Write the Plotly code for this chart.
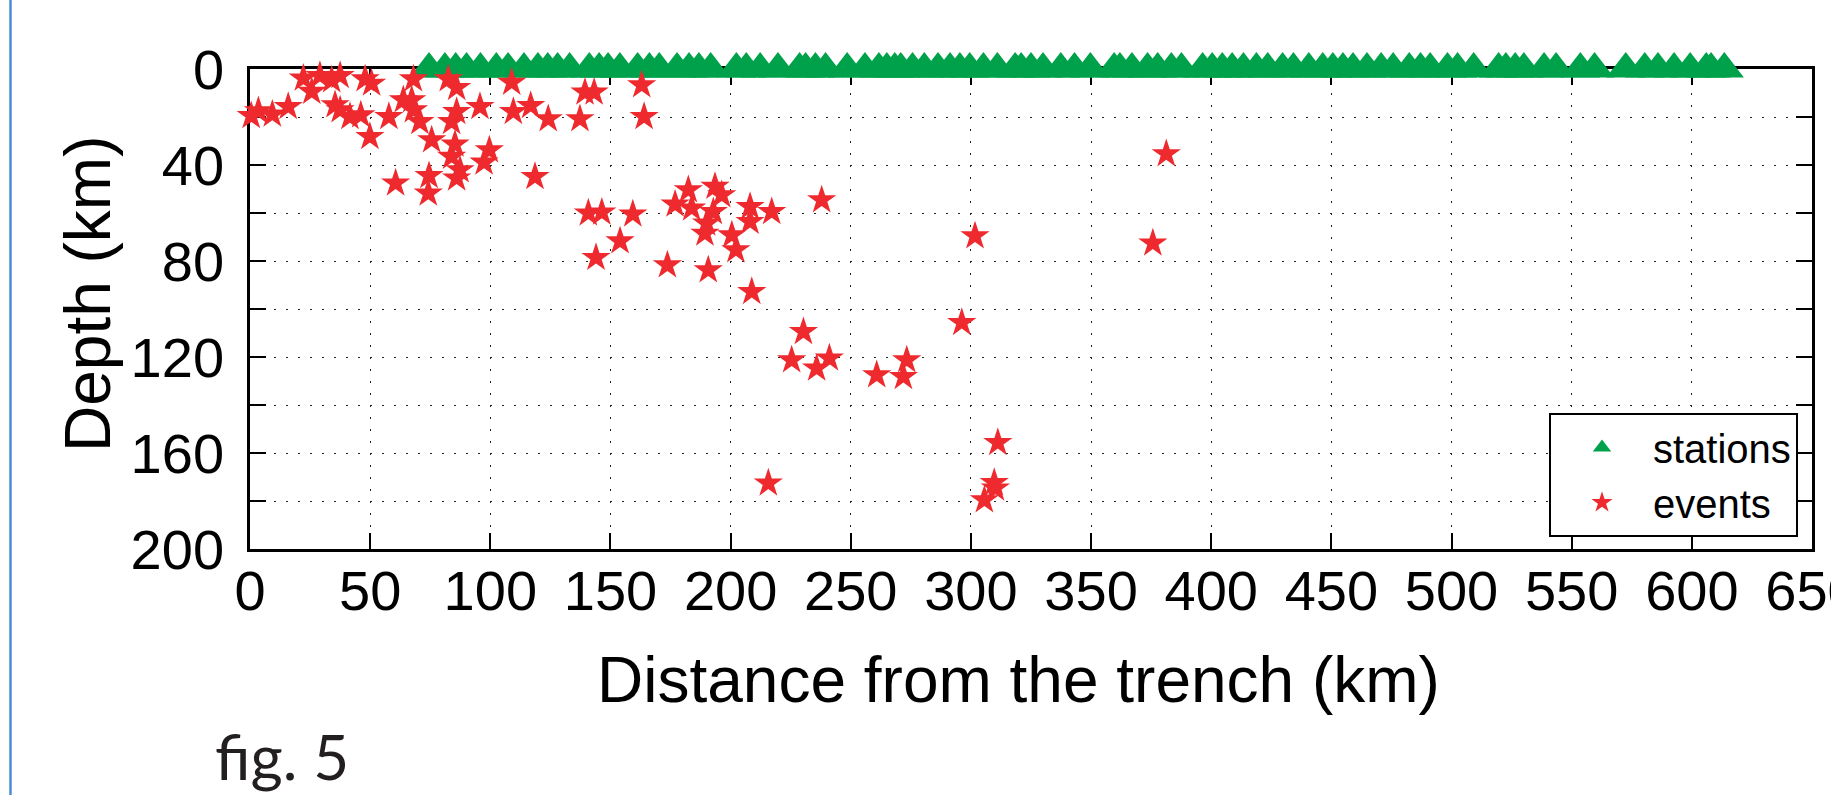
import plotly.graph_objects as go

# ---------------- data ----------------
station_km = [74.5, 81.1, 85.6, 90.1, 95.9, 102.5, 107.4, 114.0, 119.8, 123.9, 128.0, 133.0,
              141.2, 145.3, 149.0, 153.9, 161.3, 166.2, 170.3, 177.7, 182.7, 186.8, 191.7,
              202.4, 206.5, 212.3, 219.7, 228.7, 231.2, 235.3, 239.5, 248.5, 255.9, 261.7,
              265.0, 268.3, 270.8, 275.7, 280.6, 286.3, 291.3, 295.4, 299.5, 305.2, 311.0,
              318.4, 320.9, 325.0, 330.0, 337.4, 343.1, 349.7, 359.6, 362.0, 367.0, 373.5,
              377.7, 383.4, 387.6, 396.4, 400.4, 404.6, 408.7, 413.4, 418.8, 423.5, 429.7,
              434.2, 440.6, 446.4, 450.6, 454.8, 459.0, 464.8, 470.7, 475.7, 482.4, 487.1,
              491.1, 498.3, 502.5, 509.2, 519.6, 522.6, 526.5, 530.1, 538.5, 543.5, 553.6,
              559.5, 572.5, 580.4, 585.9, 592.6, 599.3, 606.0, 608.0, 613.5]
station_depth = [0, 0, 0, 0, 0, 0, 0, 0, 0, 0, 0, 0,
                 0, 0, 0, 0, 0, 0, 0, 0, 0, 0, 0,
                 0, 0, 0, 0, 0, 0, 0, 0, 0, 0, 0,
                 0, 0, 0, 0, 0, 0, 0, 0, 0, 0, 0,
                 0, 0, 0, 0, 0, 0, 0, 0, 0, 0, 0,
                 0, 0, 0, 0, 0, 0, 0, 0, 0, 0, 0,
                 0, 0, 0, 0, 0, 0, 0, 0, 0, 0, 0,
                 0, 0, 0, 0, 0, 0, 0, 0, 0, 0, 0,
                 0, 0, 0, 0, 0, 0, 0, 0, 0]

event_km = [0.5, 3.5, 9.3, 15.9, 22.2, 25.7, 29.1, 34.0, 35.4, 37.5, 37.5, 41.6, 46.1, 47.9,
            50.6, 49.9, 57.8, 60.6, 63.8, 67.3, 68.0, 68.0, 70.7, 74.5, 74.2, 75.6, 82.5,
            83.9, 83.9, 85.3, 86.0, 86.0, 86.0, 87.4, 95.7, 97.4, 99.6, 108.9, 109.6, 116.8,
            118.6, 124.1, 137.3, 139.4, 143.2, 140.8, 146.4, 144.0, 154.0, 159.3, 163.0,
            164.0, 173.7, 176.9, 182.4, 183.8, 189.3, 190.0, 190.7, 192.8, 193.5, 196.3,
            200.5, 202.2, 208.1, 208.1, 208.8, 217.1, 237.9, 230.3, 225.4, 235.8, 241.1,
            260.8, 273.3, 271.9, 296.2, 301.7, 375.7, 381.3, 215.7, 311.2, 309.7, 310.2, 305.6]
event_depth = [19.5, 17.5, 18.9, 15.7, 3.9, 9.4, 2.8, 4.6, 15.0, 2.8, 17.1, 19.9, 19.2, 4.2,
               6.0, 28.2, 19.9, 47.6, 12.9, 12.9, 4.2, 17.1, 22.0, 44.5, 51.8, 29.6, 4.2,
               22.0, 36.5, 31.4, 7.8, 17.8, 45.5, 42.1, 15.7, 38.9, 33.8, 5.6, 17.8, 15.3,
               44.9, 20.8, 20.8, 9.7, 9.7, 60.1, 59.7, 78.6, 71.7, 60.5, 6.7,
               19.9, 81.7, 56.4, 50.4, 58.0, 68.5, 64.3, 83.8, 59.5, 49.0, 52.5,
               69.2, 75.4, 57.4, 63.6, 92.8, 59.5, 54.6, 109.5, 121.3, 124.7, 120.5,
               127.5, 121.3, 128.2, 105.7, 69.6, 72.6, 35.4, 172.6, 155.7, 172.4, 174.7, 179.6]

x_tickvals = [0, 50, 100, 150, 200, 250, 300, 350, 400, 450, 500, 550, 600, 650]
x_ticktext = ["0", "50", "100", "150", "200", "250", "300", "350", "400", "450", "500",
              "550", "600", "650"]
y_tickvals = [0, 20, 40, 60, 80, 100, 120, 140, 160, 180, 200]
y_ticktext = ["0", "", "40", "", "80", "", "120", "", "160", "", "200"]

# ---------------- style ----------------
FONT = "Liberation Sans, Arial, Helvetica, sans-serif"
GREEN = "#00A14B"
RED = "#EE2A2F"
W, H = 1831, 795
L, R, T, B = 250, 19, 69, 246
PW, PH = W - L - R, H - T - B


def px_x(px):
    return (px - L) / PW


def px_y(py):
    return (H - B - py) / PH


fig = go.Figure()
fig.add_trace(go.Scatter(
    x=station_km, y=station_depth, mode="markers", name="stations",
    marker=dict(symbol="triangle-up", size=34, color=GREEN, line=dict(width=0)),
    cliponaxis=False))
fig.add_trace(go.Scatter(
    x=event_km, y=event_depth, mode="markers", name="events",
    marker=dict(symbol="star", size=22, color=RED, line=dict(width=0)),
    cliponaxis=False))

axis_common = dict(
    showline=True, linecolor="black", linewidth=2.5, mirror="ticks",
    ticks="inside", ticklen=16, tickwidth=2, tickcolor="black",
    showgrid=True, gridcolor="#222222", gridwidth=1, griddash="2px,10px",
    zeroline=False, layer="below traces", automargin=False,
    ticklabeloverflow="allow",
    tickfont=dict(family=FONT, size=56, color="black"),
)

fig.update_xaxes(range=[0, 650], tickmode="array", tickvals=x_tickvals,
                 ticktext=x_ticktext, ticklabelstandoff=-9, **axis_common)
fig.update_yaxes(range=[200, 0], tickmode="array", tickvals=y_tickvals,
                 ticktext=y_ticktext, ticklabelstandoff=12, **axis_common)

fig.update_layout(
    width=W, height=H,
    margin=dict(l=L, r=R, t=T, b=B, pad=0, autoexpand=False),
    paper_bgcolor="white", plot_bgcolor="white",
    font=dict(family=FONT, color="black"),
    showlegend=True,
    legend=dict(x=px_x(1798), xanchor="right", y=px_y(537), yanchor="bottom",
                bgcolor="white", bordercolor="black", borderwidth=2,
                font=dict(family=FONT, size=40, color="black"),
                itemwidth=92, tracegroupgap=0),
    annotations=[
        dict(text="Distance from the trench (km)", xref="paper", yref="paper",
             x=px_x(1018), y=px_y(680), xanchor="center", yanchor="middle",
             showarrow=False, font=dict(family=FONT, size=64, color="black")),
        dict(text="Depth (km)", xref="paper", yref="paper", textangle=-90,
             x=px_x(88), y=px_y(294), xanchor="center", yanchor="middle",
             showarrow=False, font=dict(family=FONT, size=64, color="black")),
        dict(text="fig. 5", xref="paper", yref="paper",
             x=px_x(213), y=px_y(756), xanchor="left", yanchor="middle",
             showarrow=False, font=dict(family="Lato, Open Sans, sans-serif",
                                        size=62, color="#231F20")),
    ],
    shapes=[
        dict(type="line", xref="paper", yref="paper",
             x0=px_x(10.5), x1=px_x(10.5), y0=px_y(0), y1=px_y(H),
             line=dict(color="#4A8FD6", width=2.5)),
    ],
)

fig.write_html("out.html")
